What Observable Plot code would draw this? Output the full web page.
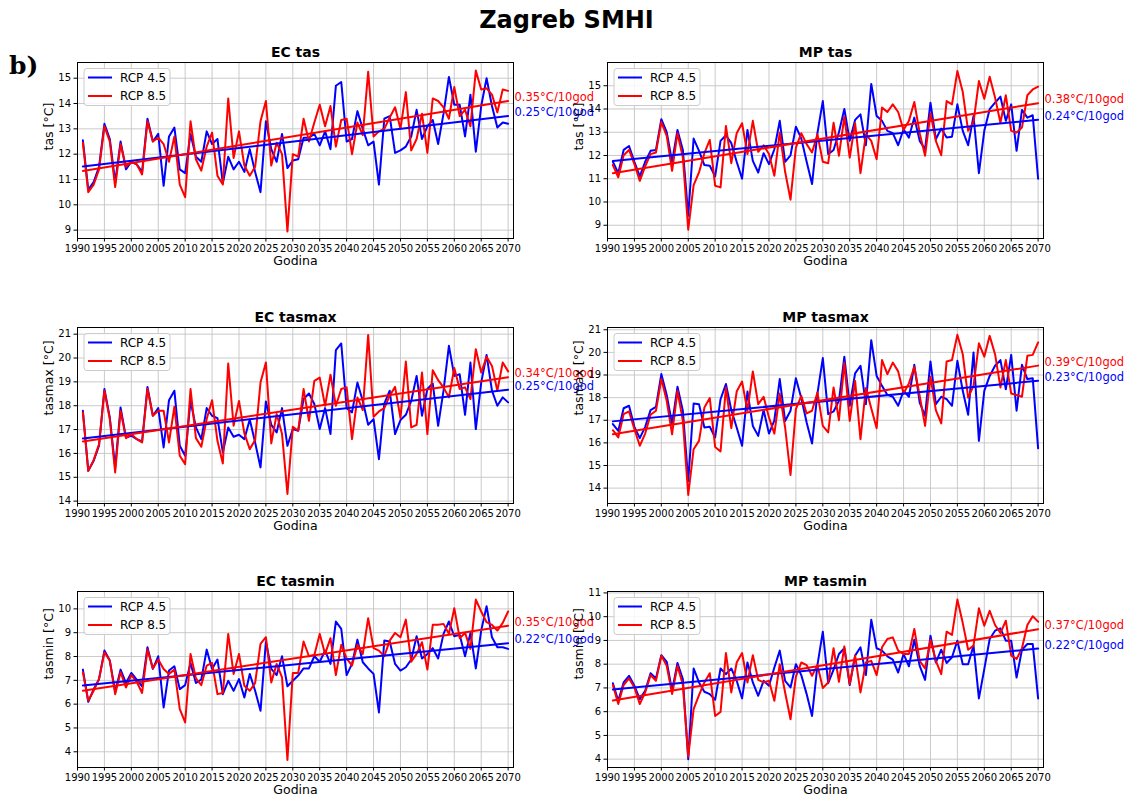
<!DOCTYPE html>
<html>
<head>
<meta charset="utf-8">
<script src="https://cdn.jsdelivr.net/npm/d3@7"></script>
<script src="https://cdn.jsdelivr.net/npm/@observablehq/plot@0.6"></script>
<style>
  body { margin:0; width:1133px; height:796px; overflow:hidden; background:white; position:relative; font-family:"DejaVu Sans", sans-serif; }
  #title { position:absolute; top:6px; left:0; width:1133px; text-align:center; font-weight:bold; font-size:24px; line-height:28px; }
  #tag { position:absolute; top:51px; left:9px; font-family:"DejaVu Serif", serif; font-weight:bold; font-size:25px; line-height:30px; }
  .panel { position:absolute; }
</style>
</head>
<body>
<div id="title">Zagreb SMHI</div>
<div id="tag">b)</div>
<div id="charts"></div>
<script>
// ---- Data (years 1991–2070) ----
const years = d3.range(1991, 2071);
const xTicks = [1990,1995,2000,2005,2010,2015,2020,2025,2030,2035,2040,2045,2050,2055,2060,2065,2070];
const tasTicks = [9,10,11,12,13,14,15];
const tasmaxTicks = [14,15,16,17,18,19,20,21];
const ecTasminTicks = [4,5,6,7,8,9,10];
const mpTasminTicks = [4,5,6,7,8,9,10,11];
const seriesNames = ["RCP 4.5", "RCP 8.5"];

const ecTas45 = [12.55,10.6,10.9,11.5,13.2,12.6,10.9,12.5,11.4,11.7,
 11.6,11.3,13.4,12.5,12.8,10.75,12.7,13.05,11.4,11.25,
 12.8,11.9,11.7,12.9,12.4,12.6,10.85,11.9,11.4,11.7,
 11.3,12.2,11.3,10.5,13.3,12.2,11.7,12.8,11.45,11.75,
 11.8,12.65,12.65,12.8,12.35,12.9,12.2,14.7,14.85,12.5,
 12.6,13.7,13.0,12.35,12.5,10.8,13.4,13.5,12.05,12.15,
 12.3,12.7,13.75,12.6,13.1,13.35,12.4,13.6,15.05,13.95,
 13.95,12.7,14.35,12.1,13.9,15.0,13.9,13.05,13.25,13.2];
const ecTas85 = [12.45,10.5,10.8,11.4,13.1,12.5,10.7,12.4,11.5,11.7,
 11.6,11.2,13.3,12.5,12.65,12.4,11.7,12.7,10.8,10.3,
 13.3,11.8,11.35,12.3,12.85,11.15,10.8,14.2,11.85,12.9,
 11.55,11.15,11.5,13.3,14.1,11.55,12.45,12.0,8.95,12.0,
 11.9,13.4,12.5,13.25,13.95,13.1,13.9,12.3,13.35,13.4,
 12.0,13.25,12.75,15.25,12.7,12.9,13.0,13.45,13.85,13.0,
 14.45,12.15,12.6,13.6,12.05,14.2,14.1,13.85,13.4,14.65,
 13.5,13.75,13.1,15.3,14.55,14.6,14.35,13.65,14.55,14.5];
const mpTas45 = [11.73,11.24,12.24,12.41,11.73,11.1,11.73,12.2,12.24,13.56,
 13.0,11.73,13.1,12.24,9.41,12.73,12.2,11.59,11.56,11.1,
 12.63,12.87,12.53,11.73,11.0,13.1,11.77,11.27,12.1,11.63,
 12.27,13.49,11.73,12.01,13.24,12.73,11.73,10.77,12.96,14.34,
 12.06,12.24,13.0,14.0,12.63,13.53,13.77,12.44,15.08,13.7,
 13.49,13.06,12.96,12.44,13.13,12.77,13.63,12.63,12.27,14.27,
 12.7,13.16,12.77,12.81,14.2,13.06,12.44,13.7,11.24,13.06,
 13.99,14.27,14.53,13.49,14.2,12.2,13.96,13.63,13.73,11.0];
const mpTas85 = [11.59,11.06,12.01,12.24,11.63,10.91,11.53,12.06,12.13,13.44,
 12.84,11.34,12.96,11.91,8.81,10.73,11.27,12.1,12.67,10.7,
 10.63,13.27,11.67,12.96,13.39,12.06,13.49,12.16,12.44,12.06,
 11.13,12.99,11.3,10.1,12.34,12.96,12.49,12.13,12.91,11.73,
 11.67,13.41,11.99,13.67,11.91,13.39,11.24,12.91,12.63,11.84,
 14.06,13.87,14.2,13.87,13.1,13.49,14.3,12.96,11.99,13.81,
 12.63,12.01,14.34,14.2,15.63,14.73,13.06,13.44,15.2,14.44,
 15.39,14.49,13.41,14.59,13.06,12.99,13.2,14.59,14.84,14.96];
const ecTasmax45 = [17.79,15.27,15.69,16.32,18.7,17.51,15.41,17.93,16.67,16.74,
 16.6,16.5,18.79,17.58,17.9,16.25,18.23,18.63,16.32,15.9,
 18.2,17.09,16.6,17.9,17.58,17.48,16.04,17.09,16.7,16.78,
 16.6,17.42,16.46,15.41,18.18,17.2,16.88,17.9,16.32,17.02,
 16.95,18.28,18.51,18.07,17.02,17.9,16.81,20.33,20.61,17.9,
 17.72,18.97,18.2,17.2,17.44,15.76,18.09,18.63,16.81,17.4,
 17.62,18.2,19.25,17.58,18.7,18.93,17.16,18.63,20.51,19.25,
 19.32,17.62,19.81,17.02,18.97,20.13,18.63,18.0,18.35,18.14];
const ecTasmax85 = [17.72,15.27,15.72,16.39,18.63,17.44,15.2,17.79,16.64,16.81,
 16.6,16.46,18.7,17.58,17.79,17.79,16.46,17.96,15.9,15.55,
 18.7,16.64,16.28,17.44,18.23,16.53,15.58,19.77,17.16,18.2,
 16.84,16.18,16.56,18.97,19.81,16.42,17.65,16.81,14.3,17.12,
 16.95,18.7,17.37,19.04,19.18,18.0,19.3,18.0,18.7,18.77,
 16.6,18.35,17.82,20.97,17.54,17.76,17.9,18.42,18.79,17.48,
 19.85,17.09,17.2,19.39,16.81,19.49,19.07,18.77,18.35,19.58,
 18.7,18.77,18.28,20.37,19.39,20.05,19.67,18.63,19.81,19.44];
const mpTasmax45 = [16.83,16.53,17.53,17.64,16.71,16.21,16.71,17.45,17.59,19.04,
 18.12,16.83,18.48,17.42,14.32,17.74,17.71,16.68,16.71,16.24,
 17.93,18.6,17.45,16.68,15.87,18.27,16.75,16.31,17.45,16.41,
 17.0,18.82,16.97,17.42,18.86,17.98,16.9,15.97,18.18,19.75,
 17.27,17.39,17.86,19.81,17.64,19.07,19.41,17.71,20.54,18.96,
 18.52,18.12,18.04,17.64,18.3,18.04,19.45,17.78,17.19,19.6,
 17.71,18.04,17.93,17.64,19.63,18.3,17.24,20.0,16.09,18.3,
 18.96,19.41,19.66,18.37,19.89,17.42,19.45,18.82,18.86,15.76];
const mpTasmax85 = [16.56,16.24,17.27,17.39,16.6,15.87,16.41,17.24,17.42,18.82,
 17.86,16.38,18.3,16.97,13.7,15.72,16.09,17.56,17.98,15.82,
 15.62,18.45,16.65,18.27,18.71,17.42,19.16,17.71,18.04,17.12,
 16.41,18.18,16.68,14.58,17.49,18.08,17.3,17.42,18.23,16.75,
 16.46,18.45,17.0,19.55,16.97,18.74,16.16,18.42,17.53,16.65,
 19.66,19.04,19.55,19.16,18.18,18.63,19.36,18.08,16.75,18.92,
 17.45,16.86,19.6,19.66,20.78,19.92,18.0,18.52,20.4,19.81,
 20.73,19.92,18.45,19.66,18.18,18.12,18.04,19.85,19.89,20.44];
const ecTasmin45 = [7.45,6.1,6.63,7.05,8.25,7.83,6.52,7.45,6.89,7.31,
 7.03,6.75,8.39,7.48,8.01,5.86,7.41,7.59,6.63,6.8,
 7.73,6.89,7.03,8.29,7.48,7.87,6.42,6.98,6.56,7.05,
 6.28,7.27,6.56,5.72,8.63,7.48,7.22,8.01,6.75,6.98,
 7.2,7.5,7.5,8.01,7.78,8.25,7.69,9.47,9.16,7.22,
 7.69,8.71,7.76,7.5,7.27,5.65,8.67,8.63,7.69,7.41,
 7.55,7.87,8.85,7.92,8.11,8.35,7.92,8.95,9.47,8.85,
 8.91,8.01,8.99,7.5,9.09,10.11,8.81,8.39,8.39,8.32];
const ecTasmin85 = [7.34,6.14,6.56,7.05,8.18,7.83,6.42,7.34,6.7,7.22,
 6.94,6.47,8.29,7.5,7.87,7.48,7.27,7.45,5.79,5.23,
 8.11,7.08,6.8,7.62,7.73,6.42,6.47,8.95,7.27,8.11,
 6.77,6.56,6.89,8.53,8.81,6.91,7.69,7.12,3.66,7.31,
 7.31,8.63,8.01,8.06,8.95,8.11,8.77,7.22,8.49,7.92,
 7.62,8.49,8.11,9.61,8.35,8.25,8.01,8.67,8.99,8.81,
 9.55,7.78,8.11,8.6,7.45,9.33,9.33,9.37,8.95,10.03,
 8.77,8.99,8.32,10.39,9.89,9.44,9.33,9.09,9.41,9.89];
const mpTasmin45 = [7.2,6.46,7.23,7.51,7.09,6.53,6.88,7.62,7.4,8.38,
 8.1,6.88,8.05,7.37,4.0,7.82,7.23,6.84,6.74,6.5,
 7.82,7.58,7.82,7.3,6.56,8.07,7.23,6.67,7.3,7.09,
 7.86,8.57,7.3,7.02,8.0,7.54,6.74,5.82,7.96,9.37,
 7.2,7.77,8.43,8.67,7.12,8.36,8.71,7.54,9.87,8.67,
 8.57,8.33,8.19,7.65,8.43,7.91,9.03,7.93,7.34,9.2,
 8.07,8.61,8.05,8.29,8.99,8.0,8.0,8.78,6.56,7.79,
 9.06,9.41,9.51,8.99,8.99,7.44,8.61,8.85,8.85,6.56];
const mpTasmin85 = [7.12,6.32,7.12,7.4,7.02,6.32,6.81,7.54,7.3,8.36,
 7.93,6.74,7.93,7.12,4.11,6.11,6.7,7.23,7.62,5.82,
 5.99,8.47,6.81,8.07,8.47,7.23,8.38,7.34,7.23,7.3,
 6.46,8.0,6.81,5.68,7.48,8.07,7.96,7.51,7.96,7.0,
 7.23,8.67,7.26,8.75,7.16,8.36,6.81,8.07,8.14,7.54,
 8.71,9.06,9.13,8.57,8.43,8.43,9.48,8.14,7.82,9.03,
 8.14,7.58,9.37,9.23,10.72,9.73,8.61,8.78,10.35,9.62,
 10.25,9.65,9.31,9.83,8.36,8.22,8.67,9.65,10.02,9.79];

const trendLabels45 = ["0.25°C/10god","0.24°C/10god","0.25°C/10god","0.23°C/10god","0.22°C/10god","0.22°C/10god"];
const trendLabels85 = ["0.35°C/10god","0.38°C/10god","0.34°C/10god","0.39°C/10god","0.35°C/10god","0.37°C/10god"];

// ---- Layout ----
const ML = 77, MR = 92, MT = 32, MB = 28, FW = 436, FH = 176;
const panels = [
  {title:"EC tas", ylabel:"tas [°C]", v45:ecTas45, v85:ecTas85, yDomain:[8.67,15.62], yTicks:tasTicks, left:0, frameTop:62},
  {title:"MP tas", ylabel:"tas [°C]", v45:mpTas45, v85:mpTas85, yDomain:[8.43,16.0], yTicks:tasTicks, left:530, frameTop:62},
  {title:"EC tasmax", ylabel:"tasmax [°C]", v45:ecTasmax45, v85:ecTasmax85, yDomain:[13.9,21.28], yTicks:tasmaxTicks, left:0, frameTop:326.5},
  {title:"MP tasmax", ylabel:"tasmax [°C]", v45:mpTasmax45, v85:mpTasmax85, yDomain:[13.32,21.1], yTicks:tasmaxTicks, left:530, frameTop:326.5},
  {title:"EC tasmin", ylabel:"tasmin [°C]", v45:ecTasmin45, v85:ecTasmin85, yDomain:[3.34,10.73], yTicks:ecTasminTicks, left:0, frameTop:591},
  {title:"MP tasmin", ylabel:"tasmin [°C]", v45:mpTasmin45, v85:mpTasmin85, yDomain:[3.65,11.06], yTicks:mpTasminTicks, left:530, frameTop:591}
];

function fit(xs, ys) {
  const mx = d3.mean(xs), my = d3.mean(ys);
  const b = d3.sum(xs, (x, i) => (x - mx) * (ys[i] - my)) / d3.sum(xs, x => (x - mx) ** 2);
  return x => my + b * (x - mx);
}

const BLUE = "#0000ff", RED = "#ff0000", GRID = "#c4c4c4";
const container = document.getElementById("charts");

panels.forEach((p, k) => {
  const d45 = years.map((year, i) => ({year, value: p.v45[i]}));
  const d85 = years.map((year, i) => ({year, value: p.v85[i]}));
  const f45 = fit(years, p.v45), f85 = fit(years, p.v85);
  const lastYear = years[years.length - 1];
  const labels = [
    {x: 2071, y: f85(lastYear), text: trendLabels85[k], c: RED},
    {x: 2071, y: f45(lastYear), text: trendLabels45[k], c: BLUE}
  ];
  const chart = Plot.plot({
    width: ML + FW + MR,
    height: MT + FH + MB,
    marginLeft: ML, marginRight: MR, marginTop: MT, marginBottom: MB,
    style: {background: "transparent", overflow: "visible", fontFamily: "DejaVu Sans", fontSize: "10px", color: "black"},
    x: {domain: [1990, 2071], ticks: xTicks, tickFormat: d => String(d), label: null, tickSize: 3.5, tickPadding: 3},
    y: {domain: p.yDomain, ticks: p.yTicks, tickFormat: d => String(d), label: null, tickSize: 3.5, tickPadding: 3},
    marks: [
      Plot.ruleX(xTicks, {stroke: GRID, strokeWidth: 0.9}),
      Plot.ruleY(p.yTicks, {stroke: GRID, strokeWidth: 0.9}),
      Plot.line(d45, {x: "year", y: "value", stroke: BLUE, strokeWidth: 2}),
      Plot.line(d85, {x: "year", y: "value", stroke: RED, strokeWidth: 2}),
      Plot.linearRegressionY(d45, {x: "year", y: "value", stroke: BLUE, strokeWidth: 2, ci: 0}),
      Plot.linearRegressionY(d85, {x: "year", y: "value", stroke: RED, strokeWidth: 2, ci: 0}),
      Plot.frame({stroke: "black", strokeWidth: 1}),
      Plot.text(labels, {x: "x", y: "y", text: "text", fill: "c", textAnchor: "start", lineAnchor: "bottom", dx: 1, fontSize: 11.5}),
      Plot.text([p.title], {frameAnchor: "top", lineAnchor: "middle", dy: -10, fontWeight: "bold", fontSize: 14}),
      Plot.text(["Godina"], {frameAnchor: "bottom", lineAnchor: "middle", dy: 22.5, fontSize: 12.5}),
      Plot.text([p.ylabel], {frameAnchor: "left", lineAnchor: "middle", rotate: -90, dx: -29, fontSize: 12.5})
    ]
  });
  chart.classList.add("panel");
  chart.style.left = p.left + "px";
  chart.style.top = (p.frameTop - MT) + "px";

  // legend box (upper left inside the frame)
  const svg = d3.select(chart);
  const g = svg.append("g").attr("transform", `translate(${ML + 7},${MT + 6.5})`)
    .attr("font-family", "DejaVu Sans").attr("font-size", 12).attr("text-anchor", "start");
  g.append("rect").attr("width", 86).attr("height", 37).attr("rx", 3)
    .attr("fill", "white").attr("fill-opacity", 0.85).attr("stroke", "#cccccc");
  [BLUE, RED].forEach((c, i) => {
    const yy = 9 + i * 18.5;
    g.append("line").attr("x1", 4).attr("x2", 28).attr("y1", yy).attr("y2", yy)
      .attr("stroke", c).attr("stroke-width", 2);
    g.append("text").attr("x", 36).attr("y", yy).attr("dy", "0.35em")
      .attr("text-anchor", "start").attr("fill", "black").text(seriesNames[i]);
  });
  container.appendChild(chart);
});
</script>
</body>
</html>
